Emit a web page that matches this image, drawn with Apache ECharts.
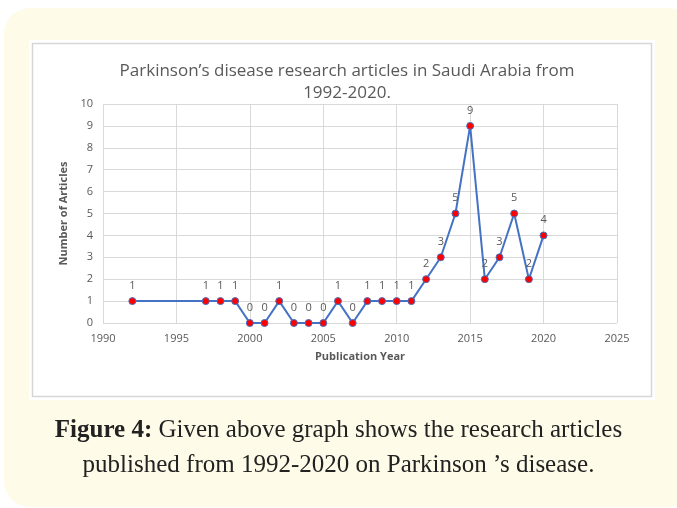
<!DOCTYPE html>
<html>
<head>
<meta charset="utf-8">
<script src="https://cdn.jsdelivr.net/npm/echarts@6/dist/echarts.min.js"></script>
<style>
  html, body { margin: 0; padding: 0; background: #ffffff; }
  #chart { width: 677px; height: 508px; }
</style>
</head>
<body>
<div id="chart"></div>
<script>
// Publication years and article counts
const years = [1992, 1997, 1998, 1999, 2000, 2001, 2002, 2003, 2004, 2005, 2006, 2007, 2008,
               2009, 2010, 2011, 2012, 2013, 2014, 2015, 2016, 2017, 2018, 2019, 2020];
const articles = [1, 1, 1, 1, 0, 0, 1, 0, 0, 0, 1, 0, 1, 1, 1, 1, 2, 3, 5, 9, 2, 3, 5, 2, 4];

const chartTitle = 'Parkinson\u2019s disease research articles in Saudi Arabia from\n1992-2020.';
const xAxisName = 'Publication Year';
const yAxisName = 'Number of Articles';
const captionLine1Bold = 'Figure 4:';
const captionLine1 = ' Given above graph shows the research articles';
const captionLine2 = 'published from 1992-2020 on Parkinson \u2019s disease.';

const points = years.map((y, i) => [y, articles[i]]);

const chart = echarts.init(document.getElementById('chart'), null, { renderer: 'canvas' });
const gridColor = '#d9d9d9';
const textGray = '#595959';
const fontSans = '"Open Sans", "Liberation Sans", sans-serif';
const fontSerif = '"Liberation Serif", serif';
const captionSize = 25;

chart.setOption({
  animation: false,
  backgroundColor: '#ffffff',
  graphic: [
    {
      type: 'rect', z: -10, silent: true,
      shape: { x: 4, y: 8, width: 690, height: 499, r: 26 },
      style: { fill: '#fefbe8' }
    },
    {
      type: 'rect', z: -9, silent: true,
      shape: { x: 29, y: 40, width: 626, height: 360 },
      style: { fill: '#ffffff' }
    },
    {
      type: 'rect', z: -8, silent: true,
      shape: { x: 32.5, y: 43.5, width: 619, height: 353 },
      style: { fill: '#ffffff', stroke: '#d6d6d6', lineWidth: 1.5 }
    },
    {
      type: 'text', silent: true,
      left: 'center', top: 418,
      style: {
        text: '{b|' + captionLine1Bold + '}{n|' + captionLine1 + '}',
        rich: {
          b: { fontFamily: fontSerif, fontWeight: 'bold', fontSize: captionSize, fill: '#222222' },
          n: { fontFamily: fontSerif, fontSize: captionSize, fill: '#222222' }
        }
      }
    },
    {
      type: 'text', silent: true,
      left: 'center', top: 453,
      style: {
        text: captionLine2,
        fontFamily: fontSerif, fontSize: captionSize, fill: '#222222'
      }
    }
  ],
  title: {
    text: chartTitle,
    left: 342,
    textAlign: 'center',
    top: 55,
    textStyle: { fontFamily: fontSans, fontWeight: 'normal', fontSize: 17, color: textGray, lineHeight: 22 }
  },
  grid: { left: 103, right: 60, top: 104, bottom: 185 },
  xAxis: {
    type: 'value',
    min: 1990, max: 2025, interval: 5,
    name: xAxisName,
    nameLocation: 'middle',
    nameGap: 28,
    nameTextStyle: { fontFamily: fontSans, fontWeight: 'bold', fontSize: 11, color: textGray },
    axisLine: { show: false },
    axisTick: { show: false },
    axisLabel: { fontFamily: fontSans, fontSize: 11, color: textGray, margin: 10, formatter: v => String(v) },
    splitLine: { show: true, lineStyle: { color: gridColor, width: 1 } }
  },
  yAxis: {
    type: 'value',
    min: 0, max: 10, interval: 1,
    name: yAxisName,
    nameLocation: 'middle',
    nameRotate: 90,
    nameGap: 33,
    nameTextStyle: { fontFamily: fontSans, fontWeight: 'bold', fontSize: 11, color: textGray },
    axisLine: { show: false },
    axisTick: { show: false },
    axisLabel: { fontFamily: fontSans, fontSize: 11, color: textGray, margin: 10 },
    splitLine: { show: true, lineStyle: { color: gridColor, width: 1 } }
  },
  series: [{
    type: 'line',
    data: points,
    symbol: 'circle',
    symbolSize: 7,
    lineStyle: { color: '#4472c4', width: 2 },
    itemStyle: { color: '#ff0000', borderColor: '#4472c4', borderWidth: 1 },
    label: {
      show: true,
      position: 'top',
      distance: 6,
      fontFamily: fontSans,
      fontSize: 11,
      color: textGray
    }
  }]
});
</script>
</body>
</html>
